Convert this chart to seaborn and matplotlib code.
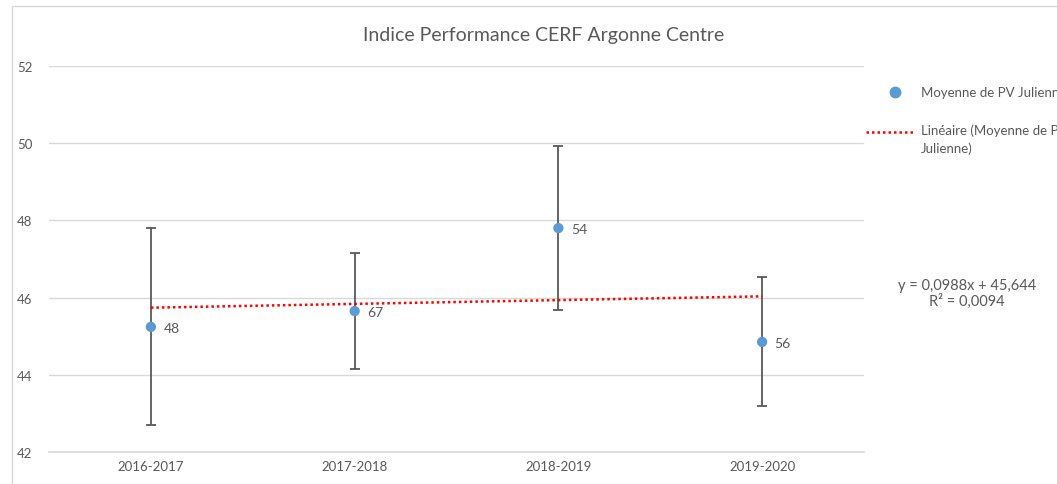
import matplotlib
matplotlib.use("Agg")
import matplotlib.pyplot as plt
import seaborn as sns
import numpy as np
from matplotlib.patches import Rectangle
from matplotlib.lines import Line2D

# values
seasons = ["2016-2017", "2017-2018", "2018-2019", "2019-2020"]
moyenne = [45.24, 45.65, 47.80, 44.85]
erreur = [2.55, 1.51, 2.12, 1.67]
effectifs = ["48", "67", "54", "56"]
equation = "y = 0,0988x + 45,644\nR² = 0,0094"
serie_label = "Moyenne de PV Julienne"
trend_label = "Linéaire (Moyenne de PV\nJulienne)"

sns.set_theme(style="white")
plt.rcParams['font.family'] = ['Lato', 'DejaVu Sans']
txt = "#595959"
blue = "#5B9BD5"
red = "#FF0000"
dots = (0, (1, 1.2))

fig = plt.figure(figsize=(10.57, 4.85), dpi=100)
ax = fig.add_axes([0.0464, 0.066, 0.771, 0.796])

xs = np.arange(1, len(seasons) + 1)

# error bars
ax.errorbar(xs, moyenne, yerr=erreur, fmt="none", ecolor="#595959",
            elinewidth=1.3, capsize=3.5, capthick=1.3, zorder=2)

# points
sns.scatterplot(x=xs, y=moyenne, color=blue, s=55, edgecolor="none",
                ax=ax, zorder=3, legend=False)

# linear trend
sns.regplot(x=xs, y=moyenne, scatter=False, ci=None, ax=ax,
            line_kws=dict(color=red, linestyle=dots, linewidth=1.8, zorder=2.5))

# data labels
for x, y, lab in zip(xs, moyenne, effectifs):
    ax.annotate(lab, (x, y), xytext=(9, -1), textcoords="offset points",
                va="center", ha="left", fontsize=10, color=txt)

ax.set_xlim(0.5, 4.5)
ax.set_ylim(42, 52)
ax.set_yticks(np.arange(42, 53, 2))
ax.set_xticks(xs)
ax.set_xticklabels(seasons)
ax.tick_params(axis="both", length=0, labelsize=9.5, colors=txt)
ax.tick_params(axis="y", pad=12)
ax.tick_params(axis="x", pad=6)
ax.grid(axis="y", color="#D9D9D9", linewidth=1)
ax.set_axisbelow(True)
for s in ["top", "right", "left"]:
    ax.spines[s].set_visible(False)
ax.spines["bottom"].set_color("#D9D9D9")
ax.set_xlabel("")
ax.set_ylabel("")

fig.text(544 / 1057, 1 - 35 / 485, "Indice Performance CERF Argonne Centre",
         ha="center", va="center", fontsize=14, color=txt)

# legend (Excel style, text runs past the right edge)
W, H = 1057, 485
fig.add_artist(Line2D([895 / W], [1 - 93 / H], marker="o", markersize=7.5,
                      color=blue, linestyle="none", transform=fig.transFigure))
fig.text(921 / W, 1 - 93 / H, serie_label, ha="left", va="center",
         fontsize=9.5, color=txt)
fig.add_artist(Line2D([866 / W, 913 / W], [1 - 133 / H, 1 - 133 / H],
                      color=red, linestyle=dots, linewidth=1.8,
                      transform=fig.transFigure))
fig.text(921 / W, 1 - 124 / H, trend_label, ha="left", va="top",
         fontsize=9.5, color=txt, linespacing=1.55)

fig.text(967 / W, 1 - 294 / H, equation, ha="center", va="center",
         fontsize=10.5, color=txt, linespacing=1.1)

# chart border
fig.patches.append(Rectangle((12 / W, -0.1), 1.2, 1 - 7 / H + 0.1,
                             transform=fig.transFigure, fill=False,
                             edgecolor="#D9D9D9", linewidth=1))

fig.savefig("out.png", dpi=100)
